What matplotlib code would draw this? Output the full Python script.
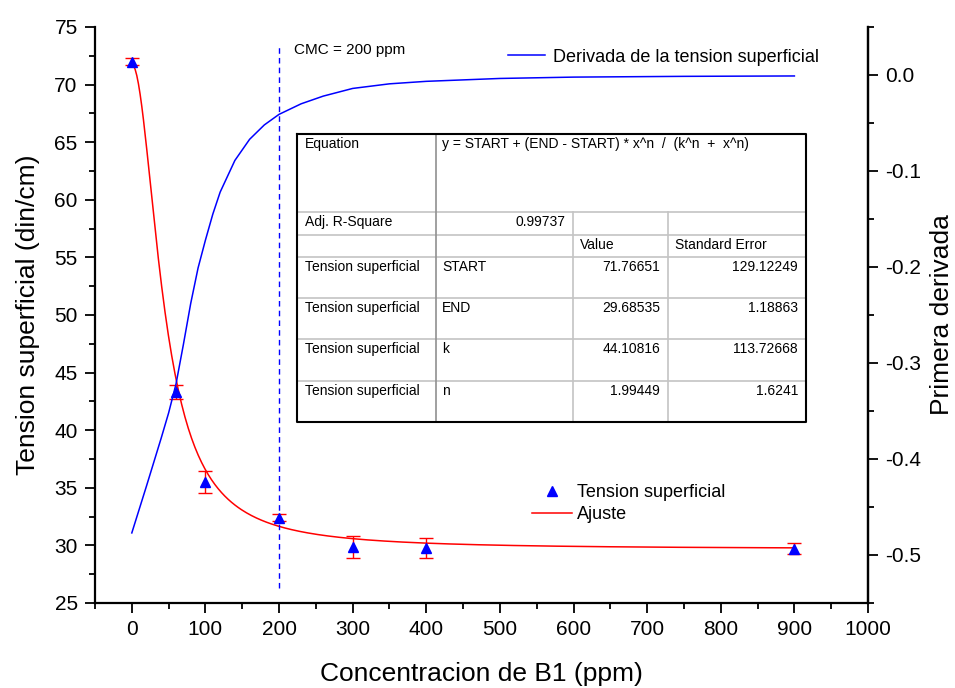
import numpy as np
import matplotlib
matplotlib.use("Agg")
import matplotlib.pyplot as plt
from matplotlib.ticker import MultipleLocator, FormatStrFormatter

plt.rcParams['font.family'] = ['Liberation Sans', 'DejaVu Sans']

# measured surface tension (din/cm) vs concentration (ppm)
conc = [0, 60, 100, 200, 300, 400, 900]
tension = [72.0, 43.35, 35.5, 32.42, 29.85, 29.77, 29.72]
tension_err = [0.33, 0.6, 0.93, 0.32, 0.95, 0.87, 0.48]

# first derivative curve (right axis)
deriv_x = [0, 20, 40, 50, 60, 70, 80, 90, 100, 110, 120, 140, 160, 180, 200,
           230, 260, 300, 350, 400, 500, 600, 750, 900]
deriv_y = [-0.477, -0.428, -0.378, -0.352, -0.322, -0.281, -0.238, -0.201,
           -0.172, -0.145, -0.122, -0.089, -0.067, -0.052, -0.041, -0.030,
           -0.022, -0.014, -0.0092, -0.0066, -0.0036, -0.0022, -0.0014,
           -0.0010]

# fit results
param_names = ["START", "END", "k", "n"]
param_values = [71.76651, 29.68535, 44.10816, 1.99449]
param_errors = [129.12249, 1.18863, 113.72668, 1.6241]
adj_r2 = "0.99737"
equation = "y = START + (END - START) * x^n  /  (k^n  +  x^n)"
cmc = 200

start, end, k, n = param_values
xfit = np.linspace(0, 900, 400)
yfit = start + (end - start) * xfit**n / (k**n + xfit**n)

fig = plt.figure(figsize=(9.55, 6.88), dpi=100)
ax = fig.add_axes([95/955, 1 - 603/688, (868-95)/955, (603-27)/688])
ax2 = ax.twinx()

# left axis: data + fit
ax.errorbar(conc, tension, yerr=tension_err, fmt='none', ecolor='red',
            elinewidth=1, capsize=5, capthick=1, zorder=3)
pts, = ax.plot(conc, tension, '^', color='blue', ms=7, zorder=4,
               label="Tension superficial")
fit_line, = ax.plot(xfit, yfit, color='red', lw=1.1, zorder=2, label="Ajuste")
ax.vlines(cmc, 26.3, 73.4, colors='blue', linestyles=(0, (4, 3)), lw=1)
ax.text(294/955, 1 - 50/688, "CMC = %d ppm" % cmc, transform=fig.transFigure,
        fontsize=11, va='center', ha='left')

ax.set_xlim(-50, 1000)
ax.set_ylim(25, 75)
ax.xaxis.set_major_locator(MultipleLocator(100))
ax.xaxis.set_minor_locator(MultipleLocator(50))
ax.yaxis.set_major_locator(MultipleLocator(5))
ax.yaxis.set_minor_locator(MultipleLocator(2.5))

# right axis: derivative
deriv_line, = ax2.plot(deriv_x, deriv_y, color='blue', lw=1.1,
                       label="Derivada de la tension superficial")
ax2.set_ylim(-0.55, 0.05)
ax2.yaxis.set_major_locator(MultipleLocator(0.1))
ax2.yaxis.set_minor_locator(MultipleLocator(0.05))
ax2.yaxis.set_major_formatter(FormatStrFormatter('%.1f'))

for a in (ax, ax2):
    a.spines['top'].set_visible(False)
    for s in a.spines.values():
        s.set_linewidth(1.6)
    a.tick_params(which='major', direction='out', length=7.5, width=1.3,
                  labelsize=15, pad=5)
    a.tick_params(which='minor', direction='out', length=4, width=1.3)
ax2.spines['left'].set_visible(False)
ax2.spines['bottom'].set_visible(False)

ax.set_xlabel("Concentracion de B1 (ppm)", fontsize=19, labelpad=16)
ax.set_ylabel("Tension superficial (din/cm)", fontsize=19, labelpad=10)
ax2.set_ylabel("Primera derivada", fontsize=19, labelpad=6)

# legends
leg1 = ax2.legend(handles=[deriv_line], loc='center left',
                  bbox_to_anchor=(508/955, 1 - 57/688),
                  bbox_transform=fig.transFigure, frameon=False, fontsize=13,
                  handlelength=2.05, handletextpad=0.44, borderpad=0,
                  borderaxespad=0)
leg2 = ax2.legend(handles=[pts, fit_line], loc='center left',
                  bbox_to_anchor=(532/955, 1 - 503.5/688),
                  bbox_transform=fig.transFigure, frameon=False, fontsize=13,
                  handlelength=2.2, handletextpad=0.28, borderpad=0,
                  borderaxespad=0, labelspacing=0.28)
ax2.add_artist(leg1)

# fit parameter table
tab = fig.add_axes([297/955, 1 - 422/688, 509/955, 288/688])
tab.set_xlim(0, 1)
tab.set_ylim(1, 0)
tab.axis('off')
tab.fill_between([0, 1], 0, 1, color='white', zorder=0)

cols = [0, 139/509, 276/509, 371/509, 1]
rows = [0, 78/288, 101/288, 123/288, 164/288, 205/288, 247/288, 1]
grey = '#c4c4c4'
for r in rows[1:-1]:
    tab.plot([0, 1], [r, r], color=grey, lw=1.2, zorder=1)
tab.plot([cols[1], cols[1]], [0, 1], color='#909090', lw=1.2, zorder=1)
for c in cols[2:4]:
    tab.plot([c, c], [rows[1], 1], color=grey, lw=1.2, zorder=1)
tab.plot([0, 1, 1, 0, 0], [0, 0, 1, 1, 0], color='black', lw=1.5, zorder=2,
         clip_on=False)

dx = 8/509
dy = 3/288
fs = 10
tab.text(dx, rows[0] + dy, "Equation", fontsize=fs, va='top')
tab.text(cols[1] + 6/509, rows[0] + dy, equation, fontsize=fs, va='top')
tab.text(dx, rows[1] + dy, "Adj. R-Square", fontsize=fs, va='top')
tab.text(cols[2] - dx, rows[1] + dy, adj_r2, fontsize=fs, va='top', ha='right')
tab.text(cols[2] + 7/509, rows[2] + dy, "Value", fontsize=fs, va='top')
tab.text(cols[3] + 7/509, rows[2] + dy, "Standard Error", fontsize=fs, va='top')
for i, (name, val, err) in enumerate(zip(param_names, param_values, param_errors)):
    r = rows[3 + i] + dy
    tab.text(dx, r, "Tension superficial", fontsize=fs, va='top')
    tab.text(cols[1] + 6/509, r, name, fontsize=fs, va='top')
    tab.text(cols[3] - dx, r, str(val), fontsize=fs, va='top', ha='right')
    tab.text(1 - dx, r, str(err), fontsize=fs, va='top', ha='right')

fig.savefig("out.png", dpi=100)
